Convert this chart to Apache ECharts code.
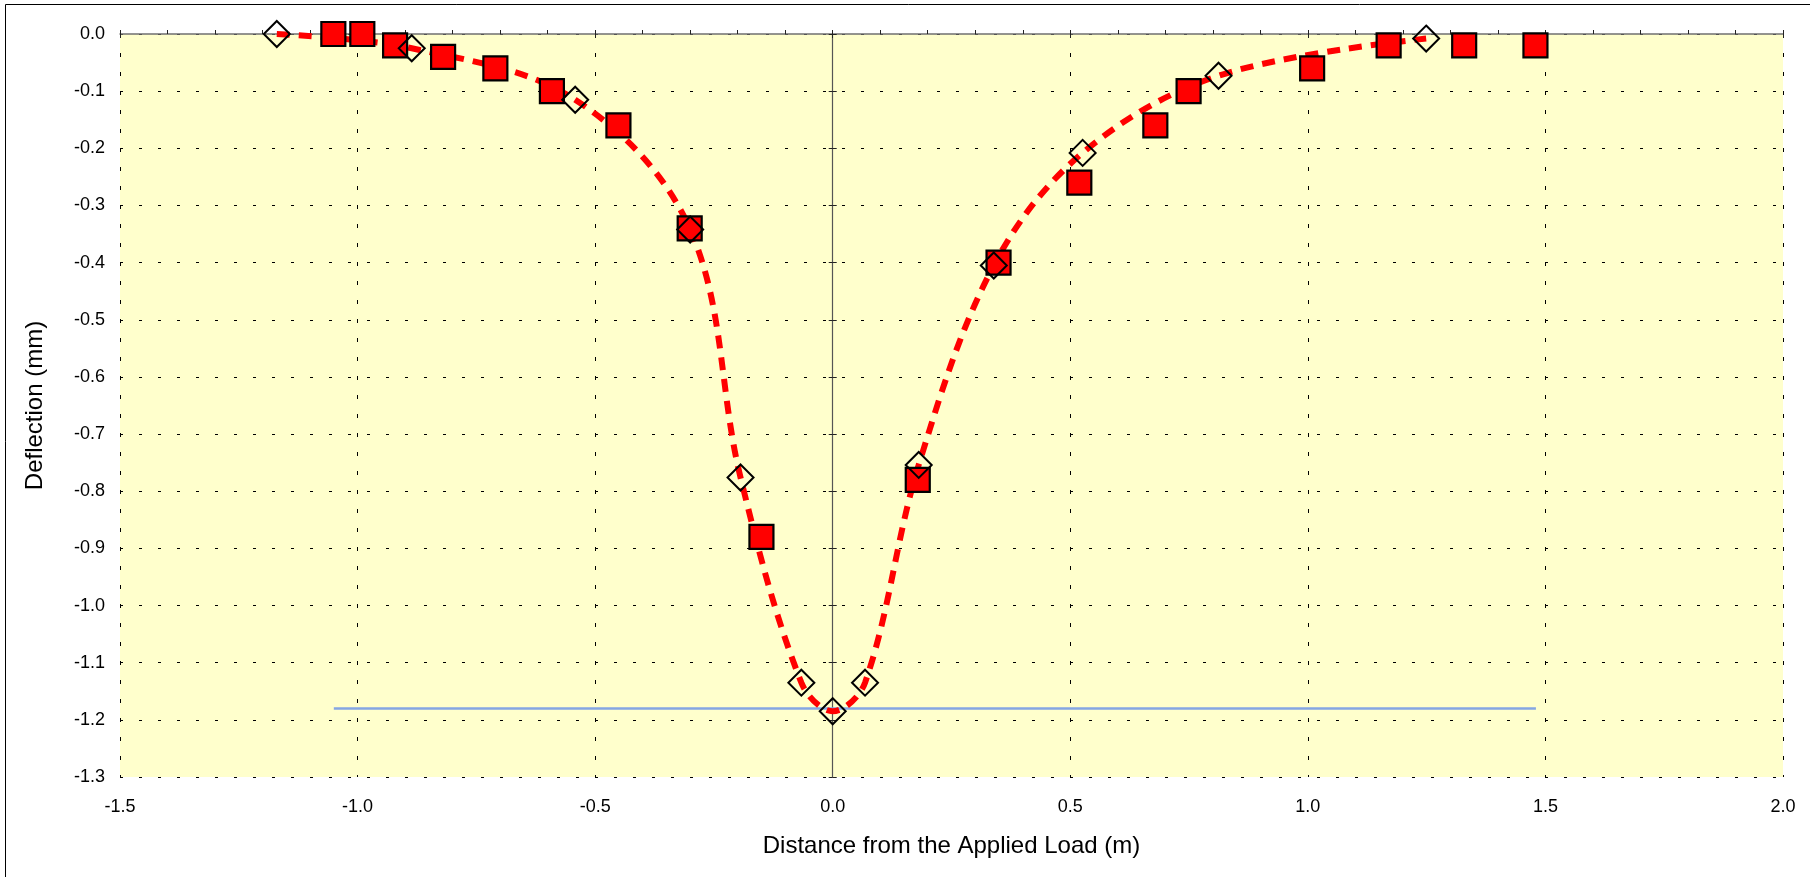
<!DOCTYPE html>
<html>
<head>
<meta charset="utf-8">
<script src="https://cdn.jsdelivr.net/npm/echarts@6/dist/echarts.min.js"></script>
<style>
  html, body { margin: 0; padding: 0; background: #fff; }
  #chart { width: 1810px; height: 877px; }
</style>
</head>
<body>
<div id="chart"></div>
<script>
// measured deflections (diamonds, also the smoothed red curve)
const diamondX = [-1.17, -0.886, -0.542, -0.30, -0.194, -0.066, 0, 0.068, 0.181, 0.339, 0.526, 0.812, 1.249];
const diamondY = [0, -0.025, -0.115, -0.342, -0.776, -1.135, -1.185, -1.135, -0.754, -0.405, -0.208, -0.073, -0.008];

// red squares
const squareX = [-1.051, -0.99, -0.921, -0.82, -0.71, -0.591, -0.451, -0.301, -0.15, 0.179, 0.349, 0.519, 0.679, 0.749, 1.009, 1.17, 1.329, 1.479];
const squareY = [0, 0, -0.02, -0.04, -0.06, -0.10, -0.16, -0.34, -0.88, -0.78, -0.40, -0.26, -0.16, -0.10, -0.06, -0.02, -0.02, -0.02];

// blue reference line
const refX = [-1.05, 1.48];
const refY = [-1.18, -1.18];

// axes
const xMin = -1.5, xMax = 2.0, xStep = 0.5;
const yMin = -1.3, yMax = 0, yStep = 0.1;

const zip = (xs, ys) => xs.map((x, i) => [x, ys[i]]);
const fmt = v => (Math.abs(v) < 1e-9 ? 0 : v).toFixed(1);
const font = 'Liberation Sans, Arial, sans-serif';

const chart = echarts.init(document.getElementById('chart'));

const hiddenX = (extra) => Object.assign({
  type: 'value', min: xMin, max: xMax, interval: xStep, position: 'top',
  axisLabel: { show: false }, splitLine: { show: false },
  axisLine: { show: false }
}, extra);
const hiddenY = (extra) => Object.assign({
  type: 'value', min: yMin, max: yMax, interval: yStep, position: 'left',
  axisLabel: { show: false }, splitLine: { show: false },
  axisLine: { show: false, onZero: true, onZeroAxisIndex: 0 }
}, extra);

chart.setOption({
  animation: false,
  textStyle: { fontFamily: font },
  grid: {
    left: 120, right: 27, top: 34, bottom: 100,
    show: true, backgroundColor: '#FFFFCC', borderWidth: 0
  },
  graphic: [{
    type: 'rect', silent: true, z: -10,
    shape: { x: 5.5, y: 4.5, width: 2000, height: 1000 },
    style: { fill: 'none', stroke: '#000', lineWidth: 1 }
  }],
  xAxis: [
    {
      type: 'value', min: xMin, max: xMax, interval: xStep, position: 'bottom',
      name: 'Distance from the Applied Load (m)',
      nameLocation: 'middle', nameGap: 57,
      nameTextStyle: { fontSize: 24, color: '#000', fontFamily: font },
      axisLine: { show: false, onZero: false },
      axisTick: { show: false },
      axisLabel: { fontSize: 18, color: '#000', margin: 21, formatter: fmt },
      splitLine: { show: true, lineStyle: { color: '#000', width: 1, type: [4, 15] } }
    },
    hiddenX({
      axisLine: { show: true, onZero: true, lineStyle: { color: '#707070', width: 1.5 } },
      axisTick: { show: true, length: 4, lineStyle: { color: '#222' } },
      minorTick: { show: true, splitNumber: 5, length: 4, lineStyle: { color: '#222' } }
    }),
    hiddenX({
      axisTick: { show: true, inside: true, length: 4, lineStyle: { color: '#222' } }
    })
  ],
  yAxis: [
    {
      type: 'value', min: yMin, max: yMax, interval: yStep, position: 'left',
      name: 'Deflection (mm)',
      nameLocation: 'middle', nameGap: 73, nameRotate: 90,
      nameTextStyle: { fontSize: 24, color: '#000', fontFamily: font },
      axisLine: { show: false, onZero: false },
      axisTick: { show: false },
      axisLabel: { fontSize: 18, color: '#000', margin: 15, formatter: fmt },
      splitLine: { show: true, lineStyle: { color: '#000', width: 1, type: [3, 16] } }
    },
    hiddenY({
      axisLine: { show: true, onZero: true, onZeroAxisIndex: 0, lineStyle: { color: '#555', width: 1.2 } },
      axisTick: { show: true, length: 4, lineStyle: { color: '#222' } }
    }),
    hiddenY({
      axisTick: { show: true, inside: true, length: 4, lineStyle: { color: '#222' } }
    })
  ],
  series: [
    {
      type: 'line', data: zip(refX, refY),
      showSymbol: false, silent: true, clip: false,
      lineStyle: { color: '#85A6E3', width: 2.5 }, z: 2
    },
    {
      type: 'line', data: zip(diamondX, diamondY),
      smooth: 0.35, showSymbol: false, silent: true, clip: false,
      lineStyle: { color: '#FF0000', width: 6, type: [13, 9] }, z: 3
    },
    {
      type: 'scatter', data: zip(squareX, squareY),
      symbol: 'rect', symbolSize: 24, clip: false,
      itemStyle: { color: '#FF0000', borderColor: '#000', borderWidth: 2.2, opacity: 1 }, z: 4
    },
    {
      type: 'scatter', data: zip(diamondX, diamondY),
      symbol: 'diamond', symbolSize: 26, clip: false,
      itemStyle: { color: 'rgba(0,0,0,0)', borderColor: '#000', borderWidth: 2, opacity: 1 }, z: 5
    }
  ]
});
</script>
</body>
</html>
